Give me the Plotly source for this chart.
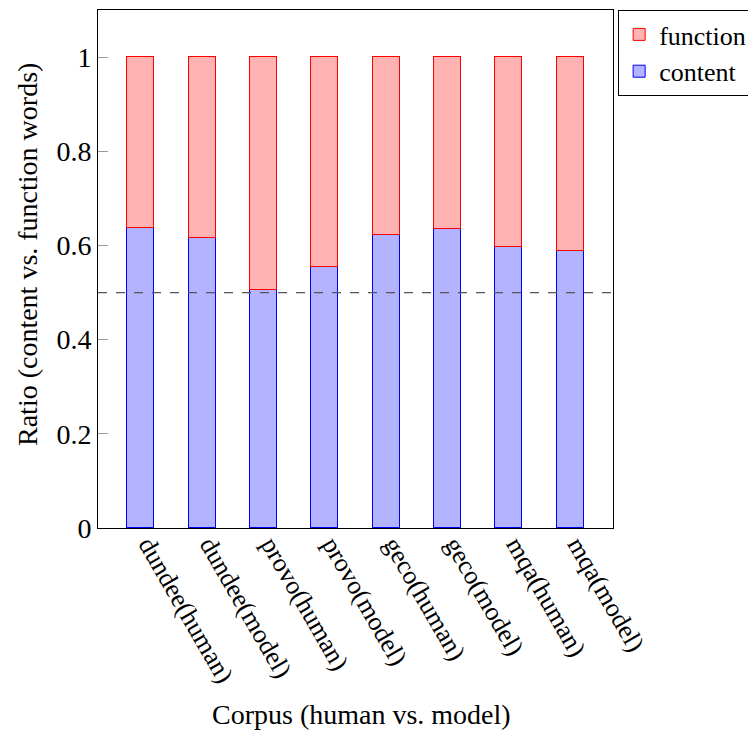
import plotly.graph_objects as go

categories = ["dundee(human)", "dundee(model)", "provo(human)", "provo(model)",
              "geco(human)", "geco(model)", "mqa(human)", "mqa(model)"]
content = [0.638, 0.615, 0.505, 0.554, 0.622, 0.635, 0.597, 0.588]
function = [round(1 - c, 3) for c in content]
reference_line = 0.5
y_ticks = [0, 0.2, 0.4, 0.6, 0.8, 1]
y_tick_labels = ["0", "0.2", "0.4", "0.6", "0.8", "1"]

FONT = "Liberation Serif, Times New Roman, serif"

fig = go.Figure()
fig.add_trace(go.Bar(
    x=categories, y=content, name="content", width=0.44,
    marker=dict(color="rgb(179,179,255)", line=dict(color="blue", width=1)),
))
fig.add_trace(go.Bar(
    x=categories, y=function, name="function", width=0.44,
    marker=dict(color="rgb(255,179,179)", line=dict(color="red", width=1)),
))

fig.add_shape(type="line", xref="paper", x0=0, x1=1, yref="y",
              y0=reference_line, y1=reference_line,
              line=dict(color="#555555", width=1.3, dash="dash"))

fig.add_annotation(text="Corpus (human vs. model)", xref="paper", yref="paper",
                   x=(361 - 98) / 515, y=(528 - 714) / 518, xanchor="center", yanchor="middle",
                   showarrow=False, font=dict(family=FONT, size=28))
fig.add_annotation(text="Ratio (content vs. function words)", xref="paper", yref="paper",
                   x=(27 - 98) / 515, y=(528 - 255) / 518, xanchor="center", yanchor="middle",
                   textangle=-90, showarrow=False, font=dict(family=FONT, size=28))

fig.update_layout(
    barmode="stack",
    width=748, height=724,
    margin=dict(l=90, r=143, t=2, b=204, autoexpand=False),
    paper_bgcolor="white", plot_bgcolor="white",
    font=dict(family=FONT, size=26, color="black"),
    showlegend=True,
    legend=dict(x=1.01, y=1, xanchor="left", yanchor="top",
                traceorder="reversed", bordercolor="black", borderwidth=1,
                font=dict(family=FONT, size=26), tracegroupgap=0,
                bgcolor="white", itemwidth=30),
    bargap=0,
)
fig.update_xaxes(
    range=[-0.7, 7.7], showline=True, linecolor="black", linewidth=1, mirror=True,
    ticks="", tickangle=60, showgrid=False, automargin=False,
    ticklabelstandoff=-10, ticklabelshift=8,
    tickfont=dict(family=FONT, size=26),
)
fig.update_yaxes(
    range=[0, 1.1], showline=True, linecolor="black", linewidth=1, mirror=True,
    ticks="inside", ticklen=10, tickcolor="#999999", tickwidth=1, automargin=False,
    tickvals=y_ticks, ticktext=y_tick_labels,
    showgrid=False, zeroline=False,
    tickfont=dict(family=FONT, size=28),
)

fig.write_html("out.html")
